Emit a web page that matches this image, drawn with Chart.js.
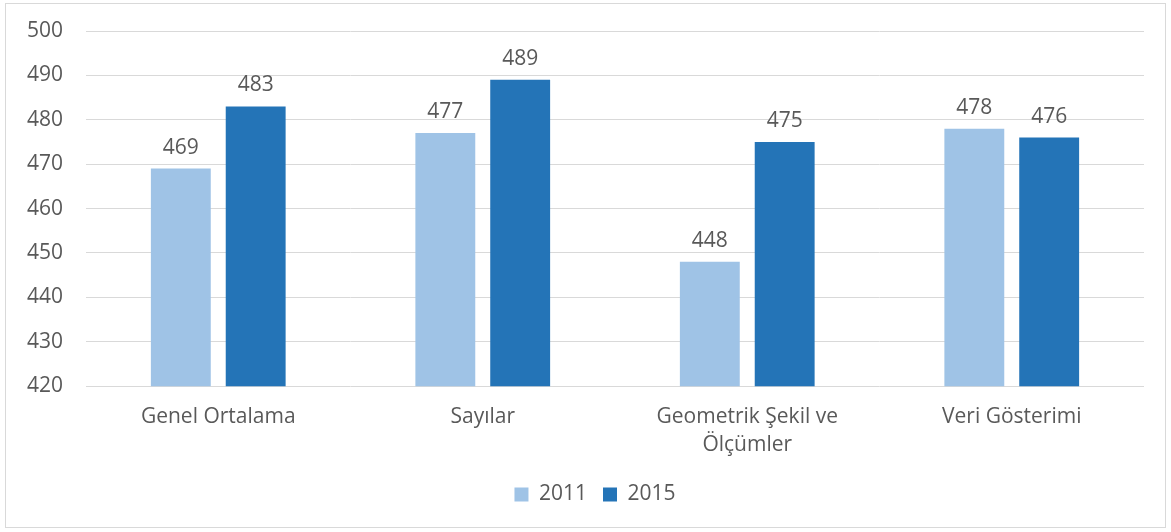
<!DOCTYPE html>
<html lang="tr">
<head>
  <meta charset="UTF-8">
  <title>Ortalama puanlar 2011 - 2015</title>
  <script src="https://cdn.jsdelivr.net/npm/chart.js"></script>
  <style>
    body {
      margin: 0;
      background: #fff;
      font-family: "Open Sans", sans-serif;
    }
    #box {
      position: absolute;
      left: 5px;
      top: 3px;
      width: 1159px;
      height: 523px;
      border: 1px solid #d9d9d9;
    }
  </style>
</head>
<body>
  <div id="box"><canvas id="chart"></canvas></div>

  <script>
    const categories = ['Genel Ortalama', 'Sayılar', ['Geometrik Şekil ve', 'Ölçümler'], 'Veri Gösterimi'];
    const values2011 = [469, 477, 448, 478];
    const values2015 = [483, 489, 475, 476];
    const yTicks = [420, 430, 440, 450, 460, 470, 480, 490, 500];

    const textColor = '#595959';
    const fontFamily = '"Open Sans", sans-serif';

    // etiketler: her çubuğun üstüne değer yaz
    const valueLabels = {
      id: 'valueLabels',
      afterDatasetsDraw(chart) {
        const ctx = chart.ctx;
        ctx.save();
        ctx.font = '21px ' + fontFamily;
        ctx.fillStyle = textColor;
        ctx.textAlign = 'center';
        ctx.textBaseline = 'middle';
        chart.data.datasets.forEach((ds, i) => {
          chart.getDatasetMeta(i).data.forEach((bar, j) => {
            ctx.fillText(ds.data[j], bar.x, bar.y - 21);
          });
        });
        ctx.restore();
      }
    };

    // lejant biraz sağa kayık duruyor
    const legendShift = {
      id: 'legendShift',
      afterLayout(chart) {
        chart.legend.left += 20;
        chart.legend.right += 20;
      }
    };

    new Chart(document.getElementById('chart'), {
      type: 'bar',
      data: {
        labels: categories,
        datasets: [
          { label: '2011', data: values2011, backgroundColor: '#9fc3e6' },
          { label: '2015', data: values2015, backgroundColor: '#2474b7' }
        ]
      },
      options: {
        responsive: true,
        maintainAspectRatio: false,
        animation: false,
        categoryPercentage: 0.566,
        barPercentage: 0.8,
        layout: { padding: { top: 0, right: 21, bottom: 12, left: 0 } },
        plugins: {
          tooltip: { enabled: false },
          legend: {
            position: 'bottom',
            labels: {
              boxWidth: 14,
              boxHeight: 14,
              padding: 16,
              color: textColor,
              font: { size: 21, family: fontFamily }
            }
          }
        },
        scales: {
          x: {
            grid: { display: false },
            border: { display: false },
            ticks: {
              color: textColor,
              maxRotation: 0,
              padding: 9,
              font: { size: 21, family: fontFamily, lineHeight: 1.33 }
            }
          },
          y: {
            min: 420,
            max: 500,
            afterFit(scale) {
              scale.width = 80;
              scale.paddingTop = 27;
            },
            afterBuildTicks(scale) { scale.ticks = yTicks.map(v => ({ value: v })); },
            grid: { color: '#d9d9d9', drawTicks: false },
            border: { display: false },
            ticks: {
              color: textColor,
              padding: 23,
              font: { size: 21, family: fontFamily }
            }
          }
        }
      },
      plugins: [valueLabels, legendShift]
    });
  </script>
</body>
</html>
